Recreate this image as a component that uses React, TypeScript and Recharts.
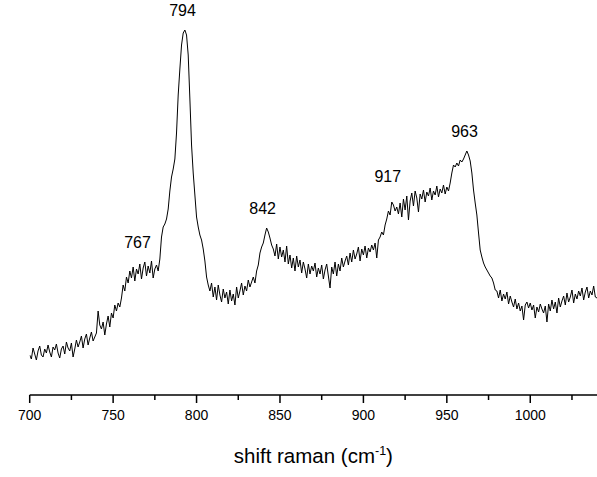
import React from "react";
import { LineChart, Line, XAxis, YAxis, ReferenceDot } from "recharts";

const wavenumbers = [
  700, 701, 702, 703, 704, 705, 706, 707, 708, 709, 710, 711, 712, 713, 714, 715, 716, 717, 718, 719,
  720, 721, 722, 723, 724, 725, 726, 727, 728, 729, 730, 731, 732, 733, 734, 735, 736, 737, 738, 739,
  740, 741, 742, 743, 744, 745, 746, 747, 748, 749, 750, 751, 752, 753, 754, 755, 756, 757, 758, 759,
  760, 761, 762, 763, 764, 765, 766, 767, 768, 769, 770, 771, 772, 773, 774, 775, 776, 777, 778, 779,
  780, 781, 782, 783, 784, 785, 786, 787, 788, 789, 790, 791, 792, 793, 794, 795, 796, 797, 798, 799,
  800, 801, 802, 803, 804, 805, 806, 807, 808, 809, 810, 811, 812, 813, 814, 815, 816, 817, 818, 819,
  820, 821, 822, 823, 824, 825, 826, 827, 828, 829, 830, 831, 832, 833, 834, 835, 836, 837, 838, 839,
  840, 841, 842, 843, 844, 845, 846, 847, 848, 849, 850, 851, 852, 853, 854, 855, 856, 857, 858, 859,
  860, 861, 862, 863, 864, 865, 866, 867, 868, 869, 870, 871, 872, 873, 874, 875, 876, 877, 878, 879,
  880, 881, 882, 883, 884, 885, 886, 887, 888, 889, 890, 891, 892, 893, 894, 895, 896, 897, 898, 899,
  900, 901, 902, 903, 904, 905, 906, 907, 908, 909, 910, 911, 912, 913, 914, 915, 916, 917, 918, 919,
  920, 921, 922, 923, 924, 925, 926, 927, 928, 929, 930, 931, 932, 933, 934, 935, 936, 937, 938, 939,
  940, 941, 942, 943, 944, 945, 946, 947, 948, 949, 950, 951, 952, 953, 954, 955, 956, 957, 958, 959,
  960, 961, 962, 963, 964, 965, 966, 967, 968, 969, 970, 971, 972, 973, 974, 975, 976, 977, 978, 979,
  980, 981, 982, 983, 984, 985, 986, 987, 988, 989, 990, 991, 992, 993, 994, 995, 996, 997, 998, 999,
  1000, 1001, 1002, 1003, 1004, 1005, 1006, 1007, 1008, 1009, 1010, 1011, 1012, 1013, 1014, 1015, 1016, 1017, 1018, 1019,
  1020, 1021, 1022, 1023, 1024, 1025, 1026, 1027, 1028, 1029, 1030, 1031, 1032, 1033, 1034, 1035, 1036, 1037, 1038, 1039,
  1040,
];

const intensities = [
  40, 36, 47, 41, 35, 44, 49, 40, 38, 46, 42, 50, 43, 38, 48, 45, 51, 42, 37, 46,
  49, 41, 53, 47, 44, 52, 38, 46, 55, 48, 53, 59, 47, 56, 61, 50, 57, 63, 54, 58,
  62, 84, 70, 66, 73, 60, 71, 79, 68, 82, 77, 90, 84, 92, 88, 97, 110, 104, 118, 112,
  124, 117, 128, 114, 126, 121, 131, 116, 127, 133, 119, 129, 122, 134, 117, 126, 130, 124, 136, 158,
  168, 171, 176, 186, 204, 218, 226, 236, 262, 300, 326, 350, 362, 365, 360, 340, 296, 250, 222, 200,
  178, 168, 160, 155, 146, 134, 118, 110, 104, 112, 98, 108, 95, 110, 100, 93, 106, 97, 103, 91,
  105, 94, 101, 90, 108, 97, 104, 112, 100, 109, 104, 115, 108, 113, 118, 112, 124, 130, 142, 148,
  152, 160, 167, 163, 157, 150, 146, 139, 151, 136, 148, 138, 145, 133, 149, 131, 140, 127, 137, 124,
  139, 128, 135, 122, 133, 126, 117, 131, 121, 129, 124, 132, 118, 127, 121, 130, 116, 125, 131, 119,
  107, 128, 121, 133, 119, 131, 124, 137, 128, 134, 139, 130, 142, 133, 145, 136, 141, 148, 134, 146,
  140, 149, 137, 147, 143, 150, 145, 152, 137, 155, 158, 163, 160, 170, 176, 184, 180, 193, 190, 184,
  188, 181, 192, 178, 196, 185, 199, 175, 194, 202, 189, 204, 197, 183, 201, 196, 205, 193, 203, 199,
  207, 195, 204, 200, 209, 198, 206, 202, 210, 201, 208, 204, 212, 222, 230, 228, 232, 229, 235, 233,
  236, 240, 244, 240, 234, 222, 205, 192, 180, 162, 145, 138, 132, 128, 125, 122, 119, 117, 112, 105,
  104, 97, 105, 94, 101, 96, 103, 91, 99, 93, 88, 96, 86, 92, 84, 89, 75, 90, 93, 87,
  92, 85, 90, 77, 88, 83, 91, 86, 82, 89, 73, 91, 84, 95, 86, 93, 82, 97, 88, 94,
  99, 90, 102, 93, 98, 105, 92, 101, 96, 104, 99, 107, 95, 103, 108, 97, 104, 100, 109, 98,
  97,
];

const peaks = [767, 794, 842, 917, 963];
const peakLabels = ["767", "794", "842", "917", "963"];
const peakLabelLift = [0, 0, 0, 6, 0];
const axisTicks = [700, 725, 750, 775, 800, 825, 850, 875, 900, 925, 950, 975, 1000, 1025];
const labeledTicks = [700, 750, 800, 850, 900, 950, 1000];
const xTitle = "shift raman (cm";
const xTitleSup = "-1";

const data = wavenumbers.map((w, i) => ({ w, v: intensities[i] }));

const FONT = "'Liberation Sans', Arial, Helvetica, sans-serif";
const TICK_SIZE = 8;
const TICK_MARGIN = 5;

function peakHeight(p: number) {
  let m = 0;
  for (let i = 0; i < wavenumbers.length; i++) {
    if (Math.abs(wavenumbers[i] - p) <= 3 && intensities[i] > m) m = intensities[i];
  }
  return m;
}

const CustomTick = (props: any) => {
  const { x, y, payload } = props;
  const axisY = y - TICK_SIZE - TICK_MARGIN;
  const major = labeledTicks.includes(payload.value);
  return (
    <g>
      <line x1={x} x2={x} y1={axisY} y2={axisY + (major ? 8 : 5)} stroke="#000" strokeWidth={1.5} />
      {major && (
        <text x={x} y={axisY + 25} textAnchor="middle" fontSize={14} fontFamily={FONT} fill="#000">
          {payload.value}
        </text>
      )}
    </g>
  );
};

const TitleLabel = (props: any) => {
  const vb = props.viewBox || {};
  const cx = vb.x + vb.width / 2;
  const baseY = vb.y + 68;
  return (
    <text x={cx} y={baseY} textAnchor="middle" fontSize={20.5} fontFamily={FONT} fill="#000">
      <tspan>{xTitle}</tspan>
      <tspan dy={-8} fontSize={12.5}>{xTitleSup}</tspan>
      <tspan dy={8}>)</tspan>
    </text>
  );
};

export default function App() {
  return (
    <div style={{ position: "absolute", left: 0, top: 0, background: "#fff" }}>
      <LineChart
        width={597}
        height={477}
        data={data}
        margin={{ top: 0, right: 0, bottom: 0, left: 29.7 }}
      >
        <XAxis
          dataKey="w"
          type="number"
          domain={[700, 1040]}
          ticks={axisTicks}
          interval={0}
          tickSize={TICK_SIZE}
          tickMargin={TICK_MARGIN}
          tickLine={false}
          tick={<CustomTick />}
          axisLine={{ stroke: "#000", strokeWidth: 1.5 }}
          height={82}
          allowDataOverflow
          label={<TitleLabel />}
        />
        <YAxis hide domain={[0, 395]} type="number" />
        <Line
          type="linear"
          dataKey="v"
          stroke="#000"
          strokeWidth={1}
          dot={false}
          isAnimationActive={false}
        />
        {peaks.map((p, i) => (
          <ReferenceDot
            key={p}
            x={p}
            y={peakHeight(p)}
            r={1}
            ifOverflow="visible"
            shape={(sp: any) => (
              <text
                x={sp.cx - 4}
                y={sp.cy - 14 - peakLabelLift[i]}
                textAnchor="middle"
                fontSize={16}
                fontFamily={FONT}
                fill="#000"
              >
                {peakLabels[i]}
              </text>
            )}
          />
        ))}
      </LineChart>
    </div>
  );
}
